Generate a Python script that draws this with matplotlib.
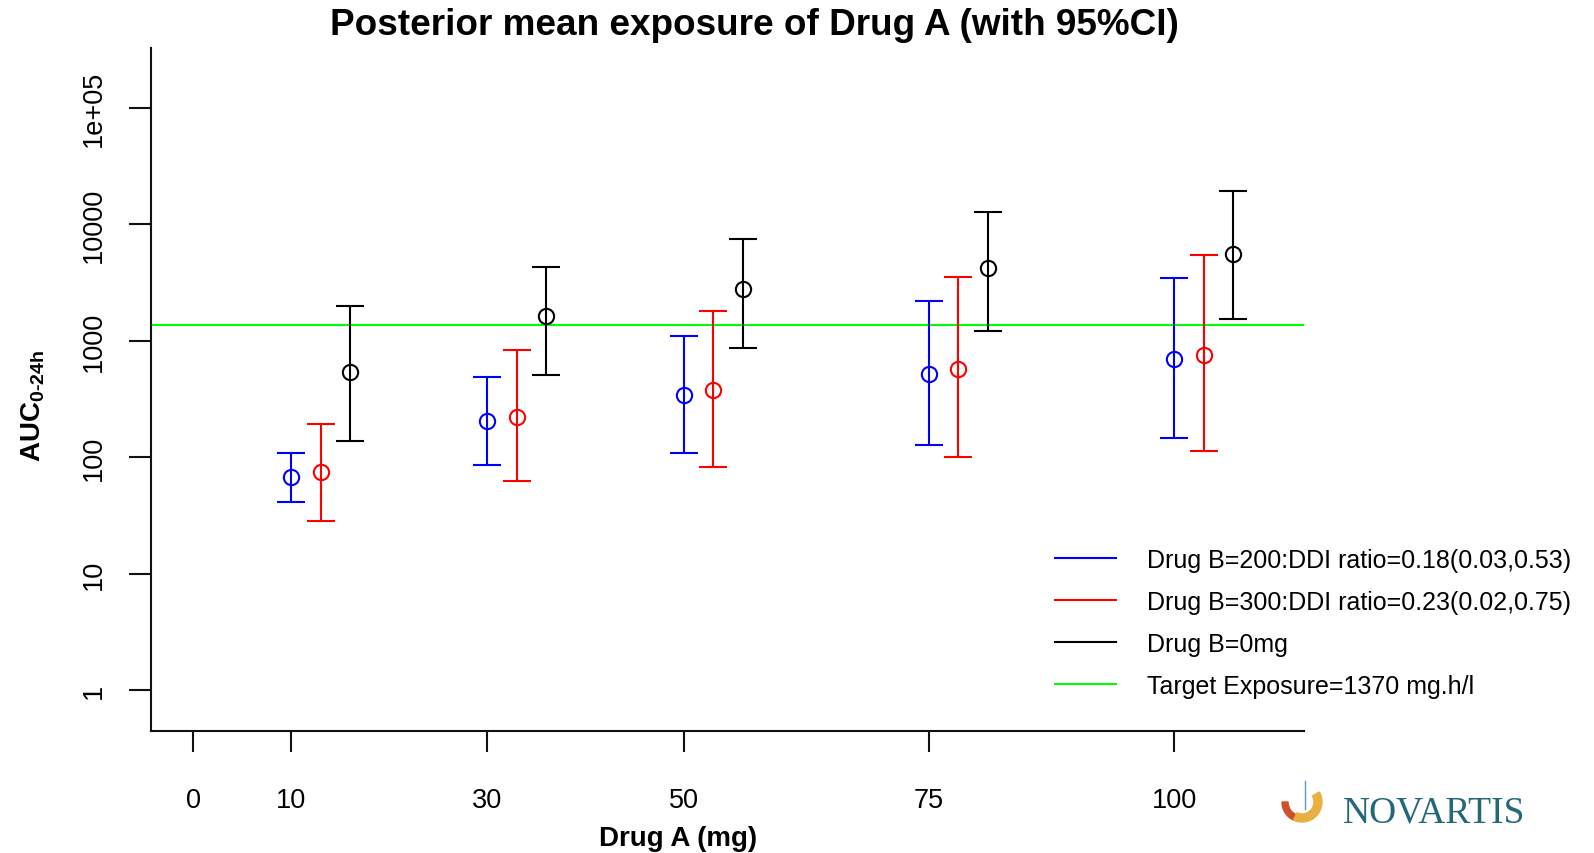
import matplotlib
matplotlib.use("Agg")
import matplotlib.pyplot as plt
import numpy as np
from matplotlib import font_manager
from matplotlib.patches import Wedge
from matplotlib.lines import Line2D
from matplotlib.ticker import NullLocator, FixedLocator, FixedFormatter

# ---------------- data ----------------
doses = [10, 30, 50, 75, 100]
xtick_values = [0, 10, 30, 50, 75, 100]
xtick_labels = ["0", "10", "30", "50", "75", "100"]
ytick_values = [1, 10, 100, 1000, 10000, 100000]
ytick_labels = ["1", "10", "100", "1000", "10000", "1e+05"]

b200_mean = [68, 203, 344, 518, 698]
b200_low = [41, 86, 109, 128, 145]
b200_high = [109, 492, 1106, 2212, 3484]

b300_mean = [74, 220, 376, 572, 755]
b300_low = [28.5, 62, 82, 100, 113]
b300_high = [192, 834, 1803, 3513, 5458]

b0_mean = [543, 1627, 2786, 4197, 5570]
b0_low = [139, 511, 867, 1207, 1539]
b0_high = [1978, 4270, 7535, 12850, 19240]

target = 1370

series_labels = [
    "Drug B=200:DDI ratio=0.18(0.03,0.53)",
    "Drug B=300:DDI ratio=0.23(0.02,0.75)",
    "Drug B=0mg",
    "Target Exposure=1370 mg.h/l",
]
title_text = "Posterior mean exposure of Drug A (with 95%CI)"
xlabel_text = "Drug A (mg)"

# ---------------- fonts ----------------
names = {f.name for f in font_manager.fontManager.ttflist}
narrow = "Liberation Sans Narrow" in names
if narrow:
    small_font = "Liberation Sans Narrow"
    leg_size = 21
    tick_size = 21
else:
    small_font = "Liberation Sans"
    leg_size = 18
    tick_size = 19.5

plt.rcParams["font.family"] = ["Liberation Sans", "DejaVu Sans"]
plt.rcParams["mathtext.fontset"] = "custom"
plt.rcParams["mathtext.rm"] = "Liberation Sans:bold"
plt.rcParams["mathtext.bf"] = "Liberation Sans:bold"
plt.rcParams["mathtext.it"] = "Liberation Sans:bold"

W, H = 1594, 854
fig = plt.figure(figsize=(W / 100, H / 100), dpi=100)

ax_l, ax_r, ax_t, ax_b = 150.5, 1304.3, 49, 732
ax = fig.add_axes([ax_l / W, 1 - ax_b / H, (ax_r - ax_l) / W, (ax_b - ax_t) / H])
ax.set_yscale("log")
ax.set_xlim(-4.34, 113.26)
ax.set_ylim(10 ** -0.352, 10 ** 5.515)

offsets = [0, 3, 6]
colors = ["#0000FF", "#FF0000", "#000000"]
groups = [
    (b200_mean, b200_low, b200_high),
    (b300_mean, b300_low, b300_high),
    (b0_mean, b0_low, b0_high),
]
for (m, lo, hi), off, c in zip(groups, offsets, colors):
    m = np.array(m, float)
    lo = np.array(lo, float)
    hi = np.array(hi, float)
    x = np.array(doses, float) + off
    ax.errorbar(x, m, yerr=[m - lo, hi - m], fmt="o", mfc="none", mec=c,
                ecolor=c, elinewidth=1.5, capsize=10.3, capthick=1.5,
                ms=11, mew=1.5, zorder=3)

ax.axhline(target, color="#00FF00", lw=1.5, zorder=2)

for s in ["top", "right"]:
    ax.spines[s].set_visible(False)
for s in ["left", "bottom"]:
    ax.spines[s].set_linewidth(1.5)
    ax.spines[s].set_color("#111111")

ax.xaxis.set_major_locator(FixedLocator(xtick_values))
ax.xaxis.set_major_formatter(FixedFormatter(xtick_labels))
ax.xaxis.set_minor_locator(NullLocator())
ax.yaxis.set_major_locator(FixedLocator(ytick_values))
ax.yaxis.set_major_formatter(FixedFormatter(ytick_labels))
ax.yaxis.set_minor_locator(NullLocator())

ax.tick_params(axis="x", length=15.1, width=1.5, pad=25, color="#111111")
ax.tick_params(axis="y", length=15.8, width=1.5, pad=15.5, color="#111111")
for lab in ax.get_xticklabels():
    lab.set_fontfamily(small_font)
    lab.set_fontsize(tick_size)
for lab in ax.get_yticklabels():
    lab.set_fontfamily(small_font)
    lab.set_fontsize(tick_size)
    lab.set_rotation(90)
    lab.set_va("center")

# legend
fs_px = leg_size * 100 / 72
handles = [Line2D([], [], color=c, lw=1.5) for c in colors + ["#00FF00"]]
leg = fig.legend(handles, series_labels, loc="upper left",
                 bbox_to_anchor=(1055 / W, 1 - 549 / H),
                 frameon=False, borderpad=0, borderaxespad=0,
                 handlelength=61 / fs_px, handletextpad=31 / fs_px,
                 labelspacing=0.72,
                 prop={"family": small_font, "size": leg_size})

# titles and labels
fig.text(754 / W, 1 - 35 / H, title_text, ha="center", va="baseline",
         fontsize=26.6, fontweight="bold")
fig.text(678 / W, 1 - 846 / H, xlabel_text, ha="center", va="baseline",
         fontsize=20, fontweight="bold")
fig.text(33 / W, 1 - 406 / H, r"$\mathrm{AUC}_{\mathrm{0\text{-}24h}}$",
         rotation=90, ha="center", va="center", fontsize=20)

# logo
fig.text(1343 / W, 1 - 823 / H, "NOVARTIS", ha="left", va="baseline",
         fontsize=27, family="Liberation Serif", color="#23687a")
tr = fig.dpi_scale_trans
fig.add_artist(Wedge((13.02, (H - 803) / 100), 0.20, 180, 245, width=0.06,
                     color="#d0502a", transform=tr))
fig.add_artist(Wedge((13.02, (H - 803) / 100), 0.20, 245, 30, width=0.08,
                     color="#e8b040", transform=tr))
fig.add_artist(Line2D([13.05, 13.05], [(H - 782) / 100, (H - 810) / 100],
                      color="#5a9ad0", lw=1.0, transform=tr))

fig.savefig("out.png", dpi=100)
